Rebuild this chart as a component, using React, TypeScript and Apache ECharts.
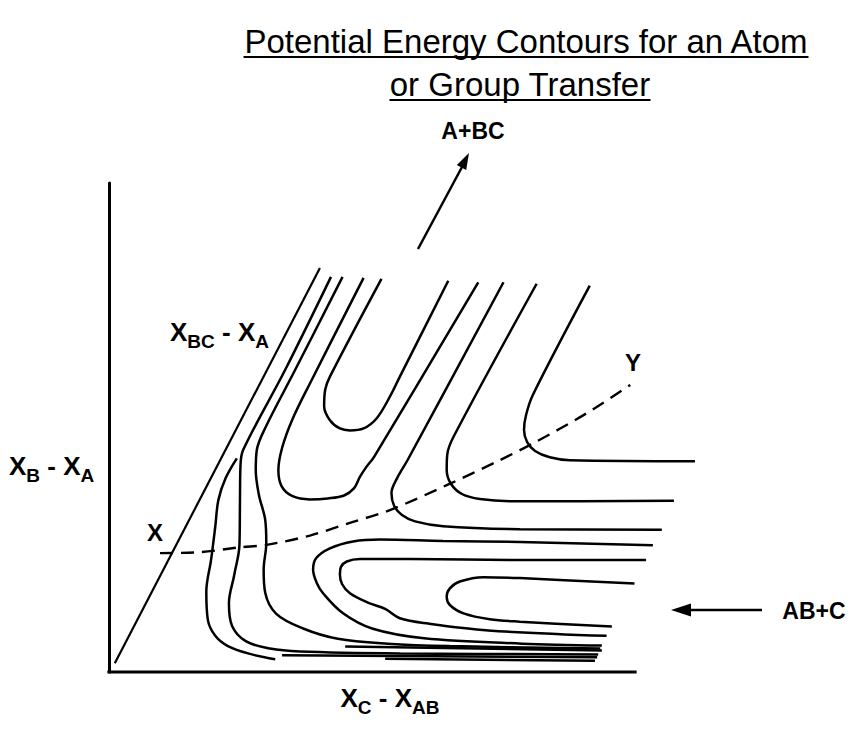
import React, { useEffect, useRef } from "react";
import * as echarts from "echarts";

// ---- text content ----
const titleLines = ["Potential Energy Contours for an Atom", "or Group Transfer"];
const reactantLabel = "A+BC";
const productLabel = "AB+C";
const startLabel = "X";
const endLabel = "Y";

// ---- data (x = X_C - X_AB, y = X_B - X_A, arbitrary units) ----
const xAxisExtent = [[0, 0], [100, 0]];
const boundaryLine = [[1.1, 1.8], [40.1, 82.6]];

const contourA = [[24.3, 43.7], [22.2, 39.7], [20.8, 35.2], [20.2, 29.7], [19.4, 22.9], [18.5, 16.4], [18.8, 10.6], [20.2, 7.4], [22.6, 5.3], [26.8, 3.7], [31.6, 2.6]];

const contourB = [[42.2, 80.8], [33.5, 61.8], [25.5, 45.4], [25.0, 42.3], [24.9, 35.2], [24.8, 26.0], [23.8, 19.8], [22.8, 14.1], [23.4, 9.4], [26.0, 6.3], [30.6, 4.8], [36.3, 4.2], [55.3, 3.8], [93.0, 3.6]];

const contourC = [[44.4, 80.8], [35.4, 61.8], [29.7, 49.9], [28.1, 45.4], [27.9, 41.3], [28.5, 36.2], [29.7, 31.1], [29.9, 26.4], [29.4, 20.9], [29.7, 16.2], [31.8, 11.9], [36.9, 8.9], [43.5, 6.8], [53.0, 5.8], [64.8, 5.3], [93.4, 4.8]];

const contourU1 = [[51.8, 80.4], [42.0, 60.4], [41.1, 57.7], [40.9, 54.3], [42.0, 51.5], [43.9, 49.8], [45.8, 49.4], [48.4, 49.8], [50.9, 51.9], [53.4, 56.3], [55.3, 60.4], [64.5, 80.0]];

const contourU2 = [[48.4, 80.6], [38.2, 59.0], [34.8, 51.5], [32.9, 45.8], [32.2, 41.3], [32.8, 38.0], [34.8, 36.0], [38.2, 35.3], [41.6, 35.5], [44.7, 36.1], [46.6, 37.6], [47.7, 39.9], [48.9, 41.9], [50.4, 44.0], [70.2, 79.7]];

const contourL7 = [[75.0, 79.7], [56.8, 43.4], [54.8, 39.7], [53.7, 36.6], [54.2, 34.0], [55.7, 32.1], [58.2, 30.8], [63.5, 29.8], [78.1, 29.2], [105.1, 29.1]];

const contourL8 = [[81.3, 79.4], [65.5, 48.1], [64.3, 44.4], [64.2, 41.3], [65.0, 38.5], [67.1, 36.4], [70.5, 35.4], [78.1, 34.9], [107.4, 35.0]];

const contourL9 = [[91.4, 79.0], [80.6, 56.7], [79.3, 52.6], [78.9, 49.5], [79.5, 47.0], [81.0, 45.2], [83.8, 43.9], [87.6, 43.3], [111.4, 43.1]];

const contourE = [[103.4, 25.9], [78.1, 26.6], [63.5, 26.8], [51.5, 27.1], [46.4, 26.7], [42.0, 25.3], [39.4, 23.3], [38.8, 20.9], [39.5, 18.2], [40.7, 16.1], [44.5, 12.0], [50.0, 8.9], [59.9, 6.9], [78.5, 5.8], [93.7, 5.4]];

const contourF = [[102.1, 22.9], [78.1, 22.9], [57.2, 23.1], [47.7, 23.1], [45.2, 22.6], [44.1, 21.5], [43.9, 20.0], [44.3, 18.0], [45.8, 16.1], [49.2, 14.2], [52.5, 12.9], [55.3, 11.0], [60.7, 9.9], [72.1, 8.5], [94.6, 7.4]];

const contourG = [[99.9, 18.1], [78.1, 19.2], [71.2, 19.4], [66.7, 18.5], [64.8, 17.1], [64.2, 15.4], [64.8, 13.7], [67.4, 12.0], [72.4, 10.8], [78.1, 10.3], [95.6, 9.3]];

const floorLine1 = [[44.9, 5.2], [93.7, 4.4]];
const floorLine2 = [[32.9, 3.4], [92.8, 3.0]];
const floorLine3 = [[52.5, 2.7], [92.4, 2.3]];

const reactionPath = [[9.7, 24.3], [17.3, 24.5], [24.9, 25.5], [30.0, 26.0], [38.2, 27.9], [46.4, 30.7], [53.4, 33.1], [64.2, 38.2], [73.7, 43.0], [80.7, 46.8], [90.8, 52.9], [99.1, 58.7]];

const contours = [contourA, contourB, contourC, contourU1, contourU2, contourL7, contourL8, contourL9, contourE, contourF, contourG, floorLine1, floorLine2, floorLine3];

const FONT = '"Liberation Sans", Arial, Helvetica, sans-serif';

function measure(text: string, font: string): number {
  const c = document.createElement("canvas").getContext("2d");
  if (!c) return text.length * 15;
  c.font = font;
  return c.measureText(text).width;
}

function richLabel(parts: [string, boolean][]) {
  return parts.map(([t, sub]) => (sub ? `{s|${t}}` : `{m|${t}}`)).join("");
}

const richStyles = {
  m: { fontSize: 26, fontWeight: "bold", fontFamily: FONT, fill: "#000", verticalAlign: "top" },
  s: { fontSize: 19, fontWeight: "bold", fontFamily: FONT, fill: "#000", verticalAlign: "top", padding: [13, 0, 0, 0] },
};

export default function App() {
  const ref = useRef<HTMLDivElement>(null);

  useEffect(() => {
    if (!ref.current) return;
    const chart = echarts.init(ref.current, null, { renderer: "svg" });

    const titleFont = `33px ${FONT}`;
    const w1 = measure(titleLines[0], titleFont);
    const w2 = measure(titleLines[1], titleFont);
    const t1x = 526;
    const t2x = 520;

    const textEl = (text: string, x: number, y: number, opts: any = {}) => ({
      type: "text",
      silent: true,
      style: {
        text,
        x,
        y,
        fill: "#000",
        fontFamily: FONT,
        fontSize: opts.fontSize ?? 22,
        fontWeight: opts.fontWeight ?? "bold",
        align: opts.align ?? "center",
        textAlign: opts.align ?? "center",
        verticalAlign: opts.verticalAlign ?? "middle",
        textVerticalAlign: opts.verticalAlign ?? "middle",
        rich: opts.rich,
      },
    });

    const lineEl = (x1: number, y1: number, x2: number, y2: number, w: number) => ({
      type: "line",
      silent: true,
      shape: { x1, y1, x2, y2 },
      style: { stroke: "#000", lineWidth: w },
    });

    const pxPerUnit = 5.26;
    const gridWidth = 600;

    const option: any = {
      animation: false,
      backgroundColor: "#fff",
      grid: { left: 109, top: 183, width: gridWidth, height: 489, containLabel: false, outerBoundsMode: "none" },
      xAxis: {
        type: "value",
        min: 0,
        max: gridWidth / pxPerUnit,
        axisLine: { show: false },
        axisTick: { show: false },
        axisLabel: { show: false },
        splitLine: { show: false },
      },
      yAxis: {
        type: "value",
        min: 0,
        max: 100,
        axisLine: { show: true, onZero: false, lineStyle: { color: "#000", width: 3 } },
        axisTick: { show: false },
        axisLabel: { show: false },
        splitLine: { show: false },
      },
      series: [
        {
          type: "line",
          name: "x axis",
          data: xAxisExtent,
          symbol: "none",
          clip: false,
          silent: true,
          lineStyle: { color: "#000", width: 3.2, cap: "square" },
        },
        {
          type: "line",
          name: "boundary",
          data: boundaryLine,
          symbol: "none",
          clip: false,
          silent: true,
          lineStyle: { color: "#000", width: 2.2 },
        },
        ...contours.map((d, i) => ({
          type: "line",
          name: "contour" + i,
          data: d,
          smooth: d.length > 2 ? 0.35 : false,
          symbol: "none",
          clip: false,
          silent: true,
          lineStyle: { color: "#000", width: 2.5 },
        })),
        {
          type: "line",
          name: "reaction path",
          data: reactionPath,
          smooth: 0.3,
          symbol: "none",
          clip: false,
          silent: true,
          lineStyle: { color: "#000", width: 2.4, type: [13, 8] },
        },
      ],
      graphic: [
        textEl(titleLines[0], t1x, 41, { fontSize: 33, fontWeight: "normal" }),
        lineEl(t1x - w1 / 2, 57, t1x + w1 / 2, 57, 2),
        textEl(titleLines[1], t2x, 84, { fontSize: 33, fontWeight: "normal" }),
        lineEl(t2x - w2 / 2, 100, t2x + w2 / 2, 100, 2),
        // reactant arrow
        textEl(reactantLabel, 473, 131, { fontSize: 23 }),
        lineEl(418, 249, 462, 167, 2.5),
        {
          type: "polygon",
          silent: true,
          shape: { points: [[469, 153], [466.2, 170], [456.8, 165]] },
          style: { fill: "#000" },
        },
        // product arrow
        textEl(productLabel, 814, 611, { fontSize: 23 }),
        lineEl(688, 610, 762, 610, 2.5),
        {
          type: "polygon",
          silent: true,
          shape: { points: [[671, 610], [691, 603.5], [691, 616.5]] },
          style: { fill: "#000" },
        },
        // point labels
        textEl(startLabel, 155, 532, { fontSize: 24 }),
        textEl(endLabel, 633, 362, { fontSize: 24 }),
        // axis labels
        textEl(richLabel([["X", false], ["B", true], [" - X", false], ["A", true]]), 9, 453, {
          align: "left",
          verticalAlign: "top",
          rich: richStyles,
        }),
        textEl(richLabel([["X", false], ["C", true], [" - X", false], ["AB", true]]), 390, 685, {
          align: "center",
          verticalAlign: "top",
          rich: richStyles,
        }),
        textEl(richLabel([["X", false], ["BC", true], [" - X", false], ["A", true]]), 170, 319, {
          align: "left",
          verticalAlign: "top",
          rich: richStyles,
        }),
      ],
    };

    chart.setOption(option);
    return () => chart.dispose();
  }, []);

  return (
    <div
      ref={ref}
      style={{ position: "absolute", left: 0, top: 0, width: 854, height: 730, background: "#fff" }}
    />
  );
}
